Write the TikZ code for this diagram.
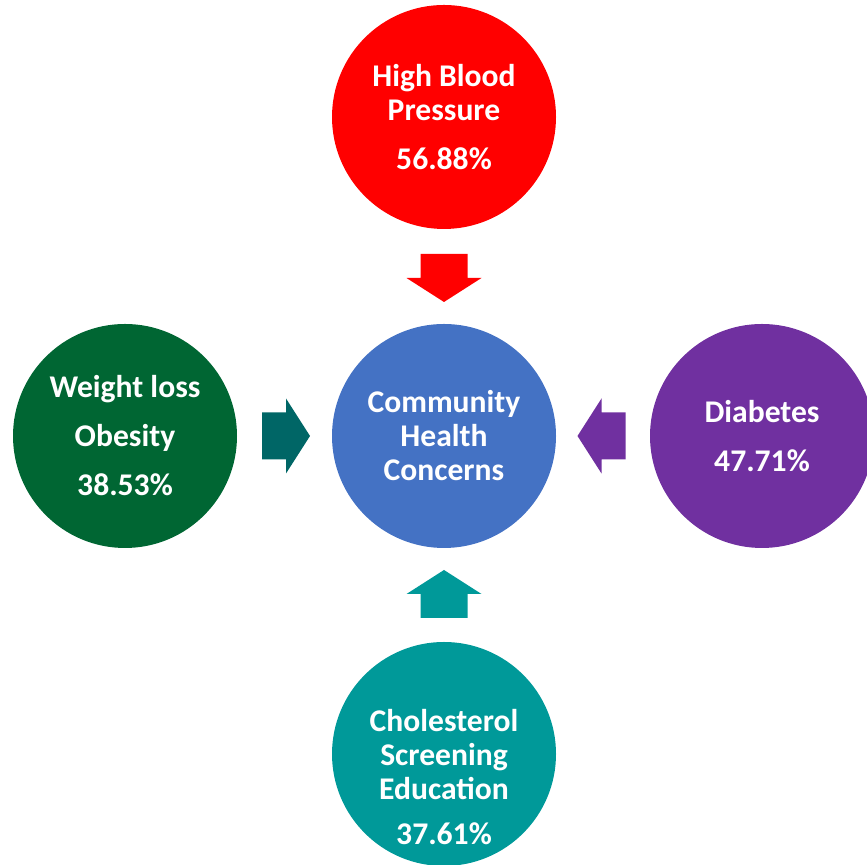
\documentclass[tikz,border=0pt]{standalone}
\usepackage{fontspec}
\setmainfont{Carlito}
\definecolor{bpred}{HTML}{FF0000}
\definecolor{hubblue}{HTML}{4472C4}
\definecolor{wtgreen}{HTML}{006633}
\definecolor{wtarrow}{HTML}{006666}
\definecolor{diapurple}{HTML}{7030A0}
\definecolor{cholteal}{HTML}{009999}

\begin{document}
\begin{tikzpicture}[
  x=0.5pt, y=0.5pt,
  txt/.style={text=white, align=center,
    font=\fontsize{15.8}{17}\selectfont\bfseries},
  disc/.style={circle, minimum size=112pt, inner sep=0pt, txt},
  blkarrow/.pic={
    \fill (-24,-23.5) -- (0,-23.5) -- (0,-37.5) -- (24,0)
      -- (0,37.5) -- (0,23.5) -- (-24,23.5) -- cycle;}
]
\useasboundingbox (0,0) rectangle (867,865);
% the hub
\node[disc, fill=hubblue] (hub) at (444,429)
  {Community\\ Health\\ Concerns};
% the four concerns round it
\node[disc, fill=bpred] (bp) at (444,748)
  {High Blood\\ Pressure\\[7.5pt] 56.88\%};
\node[disc, fill=wtgreen] (wt) at (125,429)
  {Weight loss\\[7.5pt] Obesity\\[7.5pt] 38.53\%};
\node[disc, fill=diapurple] (dia) at (762,429)
  {Diabetes\\[7.5pt] 47.71\%};
\node[disc, fill=cholteal] (chol) at (444,111) {};
\node[txt] (choltxt) at ([yshift=-11.5pt]chol.center)
  {Cholesterol\\ Screening\\ Education\\[5.5pt] 37.61\%};
% block arrows pointing in
\pic[fill=bpred, rotate=-90] (bparr) at (444,587) {blkarrow};
\pic[fill=wtarrow] (wtarr) at (286,429) {blkarrow};
\pic[fill=diapurple, rotate=180] (diaarr) at (601.5,429) {blkarrow};
\pic[fill=cholteal, rotate=90] (cholarr) at (444,271) {blkarrow};
\end{tikzpicture}
\end{document}
